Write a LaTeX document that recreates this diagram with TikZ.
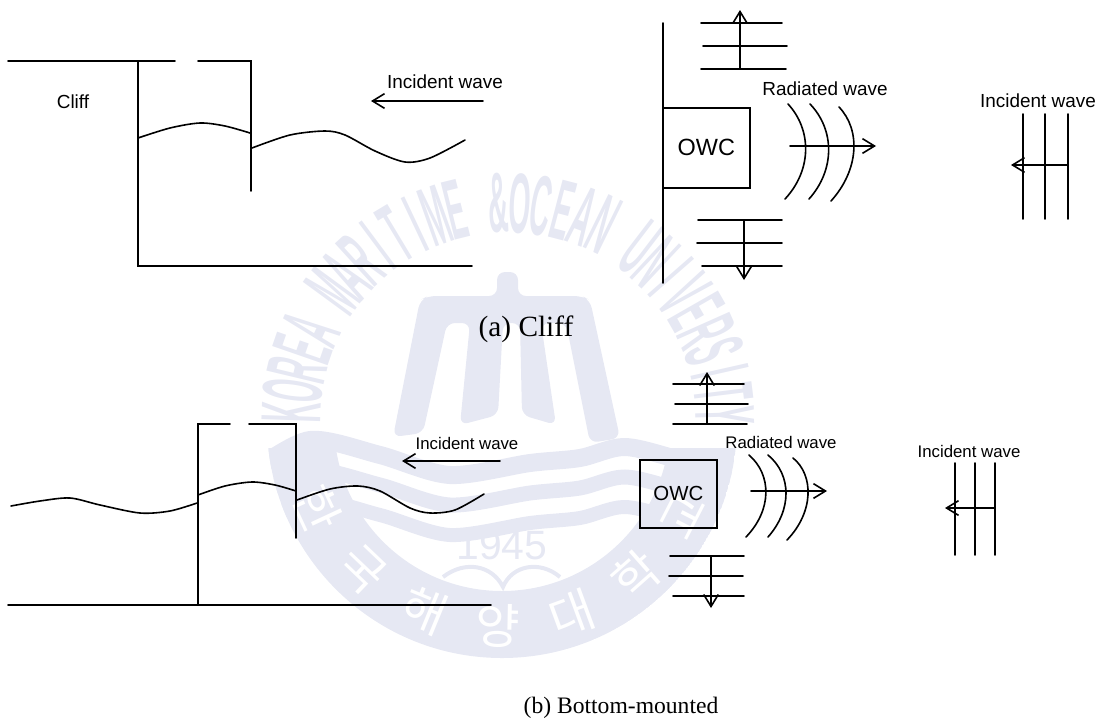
\documentclass[tikz,border=0pt]{standalone}
\usepackage{fontspec}
\setmainfont{Liberation Serif}
\setsansfont{Liberation Sans}
\newfontfamily\sealkr{Noto Sans CJK KR}
\usetikzlibrary{arrows.meta}
\definecolor{sealblue}{HTML}{E6E8F3}
\tikzset{
    >={Straight Barb[length=9pt,width=11pt]},
    line/.style={line width=1.2pt, line cap=round},
    bigtext/.style={font=\sffamily\fontsize{14.2}{16}\selectfont, inner sep=0},
    smalltext/.style={font=\sffamily\fontsize{12.6}{15}\selectfont, inner sep=0},
    caption/.style={font=\fontsize{17.7}{20}\selectfont, inner sep=0},
    sealtext/.style={font=\sffamily\bfseries\fontsize{64}{64}\selectfont, text=sealblue, xscale=0.33, inner sep=0},
}
\begin{document}
\begin{tikzpicture}[x=0.75pt, y=-0.75pt]
    \useasboundingbox (0,0) rectangle (1110,722);

    % seal behind the figure
    \begin{scope}
        \clip (502,423) circle [radius=235];
        \clip (200,448) rectangle (820,700);
        \fill [sealblue, even odd rule] (502,423) circle [radius=235] (502,423) circle [radius=168];
    \end{scope}
    \begin{scope}
        \clip (502,423) circle [radius=235];
        \foreach \dy/\wd in {0/18, 30/15, 60/14}
            \draw [sealblue, line width=\wd*0.75pt, yshift=-\dy*0.75pt] plot [smooth] coordinates {(255,470) (310,440) (380,455) (450,475) (530,463) (580,458) (625,447) (680,460) (750,480)};
    \end{scope}
    \fill [sealblue, rounded corners=6pt] (497,272) -- (518,272) -- (518,296) -- (582,296) -- (590,300) -- (620,438) -- (590,443) -- (566,323) -- (541,323) -- (556,425) -- (522,415) -- (520,323) -- (503,323) -- (498,415) -- (460,425) -- (470,323) -- (447,323) -- (423,433) -- (393,437) -- (420,300) -- (428,296) -- (497,296) -- cycle;
    \foreach \ch [count=\i] in {K,O,R,E,A,{},M,A,R,I,T,I,M,E,{},\&,O,C,E,A,N,{},U,N,I,V,E,R,S,I,T,Y} {
        \pgfmathsetmacro\ang{178-(\i-1)*5.7}
        \node [rotate=\ang-90, sealtext] (seal\i) at ({508+217*cos(\ang)},{420-217*sin(\ang)}) {\ch};
    }
    \foreach \ch [count=\i] in {한,국,해,양,대,학,교} {
        \pgfmathsetmacro\ang{205+(\i-1)*21.3}
        \node [font=\sealkr\fontsize{36}{36}\selectfont, text=white, inner sep=0, rotate=\ang-270] (kr\i) at ({502+203*cos(\ang)},{423-203*sin(\ang)}) {\ch};
    }
    \node [font=\sffamily\fontsize{30.7}{31}\selectfont, text=sealblue, inner sep=0] (year) at (502,545) {1945};
    \draw [sealblue, line width=3pt] (443,577) .. controls (465,560) and (492,565) .. (503,587) .. controls (512,565) and (540,560) .. (560,577);

    % (a) side view
    \draw [line] (8,61) -- (175,61);
    \draw [line] (198,61) -- (251,61) -- (251,191);
    \draw [line] (138,61) -- (138,266) -- (472,266);
    \draw [line] plot [smooth] coordinates {(138,138) (170,128) (200,123) (225,126) (250,133)};
    \draw [line] plot [smooth] coordinates {(252,148) (290,135) (325,131) (345,135) (375,151) (405,162) (430,158) (465,140)};
    \node [bigtext] (cliff) at (73,102) {Cliff};
    \node [bigtext] (incidenta) at (445,82) {Incident wave};
    \coordinate (inastart) at (483,101);
    \coordinate (inaend) at (371,101);
    \draw [line, ->] (inastart) -- (inaend);

    % (a) plan view
    \draw [line] (663,23) -- (663,283);
    \node [draw, line width=1.2pt, minimum width=87*0.75pt, minimum height=80*0.75pt, inner sep=0, anchor=north west, font=\sffamily\fontsize{17.6}{20}\selectfont] (owca) at (662,107) {OWC};
    \draw [line] (701,23) -- (782,23);
    \draw [line] (703,46) -- (787,46);
    \draw [line] (701,69) -- (786,69);
    \draw [line, ->] (740,69) -- (740,10);
    \draw [line] (698,220) -- (782,220);
    \draw [line] (697,243) -- (782,243);
    \draw [line] (702,266) -- (782,266);
    \draw [line, ->] (744,220) -- (744,280);
    \node [bigtext] (radiateda) at (825,89) {Radiated wave};
    \draw [line] (788,104) .. controls (812,130) and (812,170) .. (785,199);
    \draw [line] (810,104) .. controls (835,130) and (835,170) .. (809,199);
    \draw [line] (839,107) .. controls (861,130) and (859,170) .. (831,201);
    \coordinate (rastart) at (790,146);
    \coordinate (raend) at (876,146);
    \draw [line, ->] (rastart) -- (raend);
    \node [bigtext] (incidentb) at (1038,101) {Incident wave};
    \foreach \x in {1023,1045,1068}
        \draw [line] (\x,114) -- (\x,219);
    \draw [line, ->] (1068,165) -- (1011,165);

    \node [caption, font=\fontsize{22}{24}\selectfont] (captiona) at (526,329) {(a) Cliff};

    % (b) side view
    \draw [line] (230,424) -- (198,424) -- (198,604);
    \draw [line] (249,424) -- (296,424) -- (296,538);
    \draw [line] (8,605) -- (491,605);
    \draw [line] plot [smooth] coordinates {(11,506) (40,501) (70,498) (100,505) (140,513) (170,511) (197,503)};
    \draw [line] plot [smooth] coordinates {(198,495) (225,486) (252,482) (275,485) (296,491)};
    \draw [line] plot [smooth] coordinates {(297,500) (330,489) (358,486) (380,491) (410,508) (430,513) (455,510) (484,494)};
    \node [smalltext] (incidentc) at (467,443) {Incident wave};
    \coordinate (incstart) at (500,461);
    \coordinate (incend) at (402,461);
    \draw [line, ->] (incstart) -- (incend);

    % (b) plan view
    \draw [line] (673,384) -- (744,384);
    \draw [line] (675,404) -- (748,404);
    \draw [line] (673,424) -- (747,424);
    \draw [line, ->] (707,424) -- (707,372);
    \node [draw, line width=1.2pt, minimum width=77*0.75pt, minimum height=68*0.75pt, inner sep=0, anchor=north west, font=\sffamily\fontsize{15.3}{18}\selectfont] (owcb) at (639,459) {OWC};
    \node [smalltext] (radiatedb) at (781,442) {Radiated wave};
    \draw [line] (749,455) .. controls (772,475) and (772,510) .. (746,537);
    \draw [line] (768,455) .. controls (792,475) and (792,510) .. (768,537);
    \draw [line] (793,458) .. controls (814,475) and (814,512) .. (787,540);
    \coordinate (rbstart) at (751,491);
    \coordinate (rbend) at (827,491);
    \draw [line, ->] (rbstart) -- (rbend);
    \draw [line] (670,556) -- (744,556);
    \draw [line] (669,576) -- (743,576);
    \draw [line] (673,596) -- (744,596);
    \draw [line, ->] (711,556) -- (711,608);
    \node [smalltext] (incidentd) at (969,451) {Incident wave};
    \foreach \x in {955,975,995}
        \draw [line] (\x,463) -- (\x,555);
    \draw [line, ->] (995,508) -- (945,508);

    \node [caption] (captionb) at (621,708) {(b) Bottom-mounted};
\end{tikzpicture}
\end{document}
